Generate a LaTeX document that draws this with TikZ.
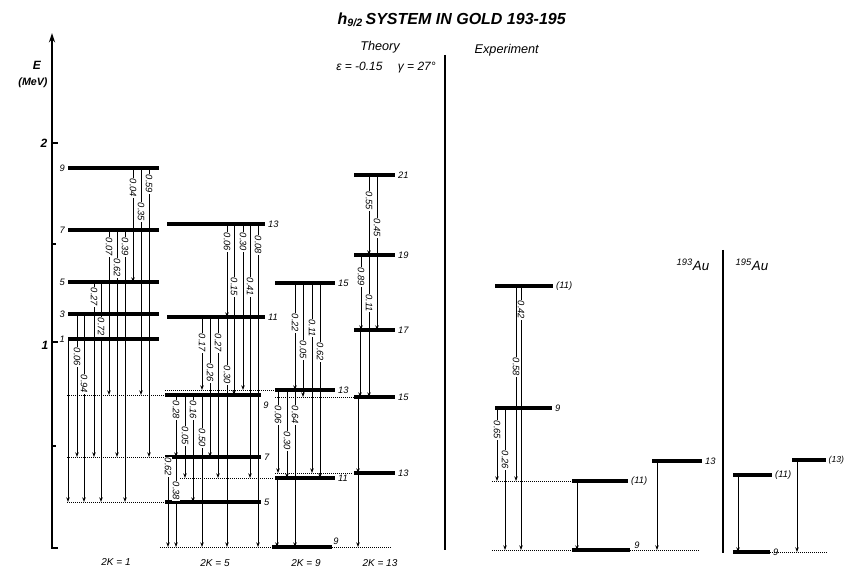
\documentclass[tikz,border=0pt]{standalone}
\usepackage{fontspec}
\setmainfont{Liberation Sans}
\usetikzlibrary{arrows.meta}
\begin{document}
\begin{tikzpicture}[x=0.75pt,y=-0.75pt,font=\itshape,
  lvl/.style={line width=2.4pt},
  ext/.style={line width=0.5pt,densely dotted},
  trn/.style={line width=0.6pt,-{Stealth[length=3.5pt,width=2.6pt]}},
  plab/.style={fill=white,inner sep=0.5pt,rotate=-90,font=\itshape\fontsize{7}{7}\selectfont},
  llab/.style={font=\itshape\fontsize{7}{7}\selectfont,inner sep=1.2pt},
  blab/.style={font=\itshape\fontsize{7.5}{8}\selectfont},
  sep/.style={line width=1.5pt}]
\useasboundingbox (0,0) rectangle (847,570);

% axis
\draw[line width=1.6pt,-{Stealth[length=7pt,width=4.5pt]}] (52,548) -- (52,33);
\draw[line width=1.2pt] (51,548) -- (58,548);
\draw[line width=1.2pt] (52,143) -- (58,143);
\draw[line width=1.2pt] (52,342) -- (58,342);
\draw[line width=0.8pt] (52,244) -- (56,244);
\draw[line width=0.8pt] (52,446) -- (56,446);
\node[font=\itshape\bfseries\fontsize{9}{9}\selectfont] (ax2) at (44,143) {2};
\node[font=\itshape\bfseries\fontsize{9}{9}\selectfont] (ax1) at (45,345) {1};
\node[font=\itshape\bfseries\fontsize{9}{9}\selectfont] (axE) at (37,65) {E};
\node[font=\itshape\bfseries\fontsize{8}{8}\selectfont] (axM) at (33,83) {(MeV)};

% titles
\node[anchor=west,font=\itshape\bfseries\fontsize{12}{12}\selectfont] (title) at (333,20) {h\textsubscript{9/2}\,SYSTEM IN GOLD 193-195};
\node[font=\itshape\fontsize{9.5}{10}\selectfont] (theory) at (380,47) {Theory};
\node[font=\itshape\fontsize{9}{10}\selectfont] (param) at (386,68) {ε = -0.15 \quad γ = 27°};
\node[anchor=west,font=\itshape\fontsize{9.5}{10}\selectfont] (exper) at (470,50) {Experiment};
\node[font=\itshape\fontsize{10}{10}\selectfont] (au193) at (693,265) {\textsuperscript{193}Au};
\node[font=\itshape\fontsize{10}{10}\selectfont] (au195) at (752,265) {\textsuperscript{195}Au};

% separators
\draw[sep] (445,55) -- (445,550);
\draw[sep] (723,250) -- (723,553);

% thin extensions
\foreach \xa/\xb/\y in {67/165/395, 67/165/457, 67/165/502, 160/272/547, 332/392/547,
  180/273/478, 165/275/390, 275/354/397, 275/352/473,
  492/572/481, 492/572/550, 630/700/550, 770/828/552}
  \draw[ext] (\xa,\y) -- (\xb,\y);

% 2K=1 band
\foreach \y/\t in {168/9,230/7,282/5,314/3,339/1}
  \draw[lvl] (68,\y) -- (159,\y) node[pos=0,anchor=east,llab] (a\t) {\t};
% 2K=5 band
\foreach \y/\t in {224/13,317/11}
  \draw[lvl] (167,\y) -- (265,\y) node[pos=1,anchor=west,llab] (b\t) {\t};
\foreach \y/\t in {457/7,502/5}
  \draw[lvl] (165,\y) -- (261,\y) node[pos=1,anchor=west,llab] (b\t) {\t};
\draw[lvl] (165,395) -- (261,395);
\node[llab] (b9) at (266,405) {9};
% 2K=9 band
\foreach \y/\t in {283/15,390/13,478/11}
  \draw[lvl] (275,\y) -- (335,\y) node[pos=1,anchor=west,llab] (c\t) {\t};
\draw[lvl] (272,547) -- (332,547);
\node[llab] (c9) at (336,541) {9};
% 2K=13 band
\foreach \y/\t in {175/21,255/19,330/17,397/15,473/13}
  \draw[lvl] (354,\y) -- (395,\y) node[pos=1,anchor=west,llab] (d\t) {\t};

% experiment levels
\draw[lvl] (495,286) -- (553,286) node[pos=1,anchor=west,llab] (e11a) {(11)};
\draw[lvl] (495,408) -- (552,408) node[pos=1,anchor=west,llab] (e9a) {9};
\draw[lvl] (572,481) -- (628,481) node[pos=1,anchor=west,llab] (e11b) {(11)};
\draw[lvl] (572,550) -- (630,550);
\node[llab] (e9b) at (637,545) {9};
\draw[lvl] (652,461) -- (702,461) node[pos=1,anchor=west,llab] (e13) {13};
\draw[lvl] (733,475) -- (772,475) node[pos=1,anchor=west,llab] (f11) {(11)};
\draw[lvl] (733,552) -- (770,552) node[pos=1,anchor=west,llab] (f9) {9};
\draw[lvl] (792,460) -- (826,460) node[pos=1,anchor=west,inner sep=0.8pt,font=\itshape\fontsize{6.5}{7}\selectfont] (f13) {(13)};

% unlabelled transitions
\foreach \x/\a/\b in {68/339/502, 277/478/547, 360/330/397, 358/397/473, 358/473/547,
  577/481/550, 657/461/550, 738/475/552, 797/460/552}
  \draw[trn] (\x,\a) -- (\x,\b);

% labelled transitions
\foreach \x/\a/\b/\p/\m in {
  77/314/457/0.06/357, 84/314/502/0.94/384, 94/282/457/0.27/297, 101/282/502/0.72/327,
  109/230/395/0.07/247, 117/230/457/0.62/268, 125/230/502/0.39/247,
  133/168/282/0.04/188, 141/168/395/0.35/212, 149/168/457/0.59/184,
  176/395/457/0.28/410, 185/395/478/0.05/436, 193/395/502/0.16/410, 202/395/547/0.50/438,
  168/457/547/0.62/467, 176/457/547/0.38/491,
  202/317/390/0.17/343, 210/317/457/0.26/373, 218/317/478/0.27/343, 227/317/547/0.30/375,
  227/224/317/0.06/242, 234/224/395/0.15/287, 243/224/390/0.30/242, 250/224/478/0.41/287,
  258/224/547/0.08/245,
  295/283/390/0.22/323, 303/283/397/0.05/350, 312/283/473/0.11/328, 320/283/478/0.62/352,
  278/390/473/0.06/415, 287/390/478/0.30/441, 295/390/547/0.64/415,
  369/175/255/0.55/201, 377/175/330/0.45/228, 361/255/330/0.89/277, 369/255/397/0.11/303,
  516/286/481/0.58/367, 521/286/550/0.42/310, 497/408/481/0.65/430, 505/408/550/0.26/460}
{
  \draw[trn] (\x,\a) -- (\x,\b);
  \node[plab] (t\x-\a) at (\x,\m) {\p};
}

% band labels
\node[blab] (k1) at (116,562) {2K = 1};
\node[blab] (k5) at (215,563) {2K = 5};
\node[blab] (k9) at (306,563) {2K = 9};
\node[blab] (k13) at (380,563) {2K = 13};
\end{tikzpicture}
\end{document}
